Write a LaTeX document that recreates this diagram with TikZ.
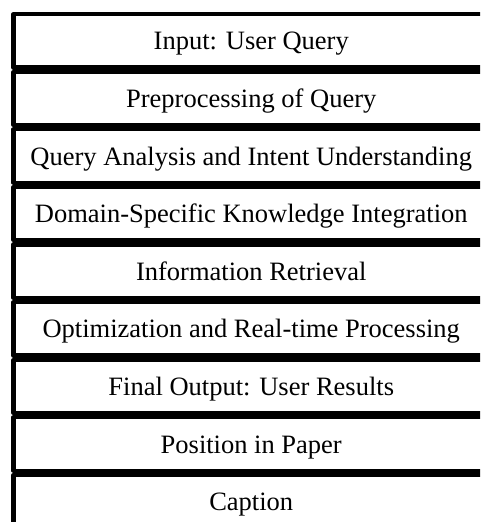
\documentclass[tikz,border=0pt]{standalone}
\usepackage{fontspec}
\setmainfont{Liberation Serif}
\usepackage{tikz}
\usetikzlibrary{positioning}
\tikzstyle{stage} = [rectangle, draw=black, line width=4.2pt, line join=round, inner sep=0pt,
  minimum width=475.5pt, minimum height=53.4pt, text height=22pt, text depth=4pt,
  font=\fontsize{26.5}{30}\selectfont]

\begin{document}
\begin{tikzpicture}
\clip (0,0) rectangle (480pt,-522pt);
\node [stage, anchor=north] (input) at (251.25pt,-12pt) {Input: User Query};
\node [stage, below=0pt of input] (prep) {Preprocessing of Query};
\node [stage, below=0pt of prep] (analysis) {Query Analysis and Intent Understanding};
\node [stage, below=0pt of analysis] (domain) {Domain-Specific Knowledge Integration};
\node [stage, below=0pt of domain] (retrieval) {Information Retrieval};
\node [stage, below=0pt of retrieval] (optim) {Optimization and Real-time Processing};
\node [stage, below=0pt of optim] (output) {Final Output: User Results};
\node [stage, below=0pt of output] (position) {Position in Paper};
\node [stage, below=0pt of position] (caption) {Caption};
\end{tikzpicture}
\end{document}
